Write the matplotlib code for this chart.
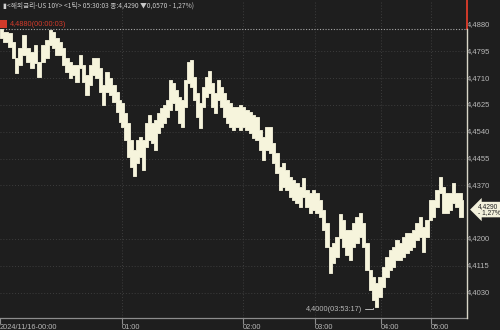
import matplotlib
matplotlib.use("Agg")
import matplotlib.pyplot as plt
import matplotlib.transforms as mtransforms
from matplotlib.patches import Rectangle

# ---------------- data ----------------
tick_idx = [0,5,10,13,16,20,24,28,32,35,39,43,47,50,53,57,60,63,67,70,73,77,80,83,87,90,93,97,100,103,
            107,110,114,117,120,122,125,128,131,134,137,140,143,146,149,152,155,158,161,164,167,170,173,176,179,182,185,188,191,194,
            197,200,203,206,209,212,215,218,221,224,227,230,233,237,240,243,247,250,253,257,260,263,267,270,273,277,280,283,287,290,
            293,297,300,303,307,310,313,317,320,323,327,330,333,337,340,343,347,350,353,357,360,363,367,370,373,376,380,383,387,390,
            393,397,400,403,407,410,413,417,420,423,427,430,433,437,440,443,447,450,453,457,460,463]

high = [4.4880,4.4870,4.4867,4.4839,4.4788,4.4820,4.4861,4.4820,4.4807,4.4829,4.4775,4.4829,4.4845,4.4877,4.4870,4.4851,4.4839,4.4820,4.4788,4.4775,
        4.4766,4.4766,4.4798,4.4766,4.4734,4.4766,4.4788,4.4788,4.4756,4.4702,4.4744,4.4725,4.4702,4.4680,4.4655,4.4645,4.4614,4.4582,4.4528,4.4496,
        4.4528,4.4538,4.4528,4.4582,4.4607,4.4582,4.4592,4.4614,4.4630,4.4639,4.4655,4.4718,4.4709,4.4687,4.4664,4.4655,4.4718,4.4775,4.4782,4.4728,
        4.4677,4.4645,4.4696,4.4728,4.4747,4.4709,4.4677,4.4718,4.4696,4.4677,4.4655,4.4645,4.4633,4.4633,4.4639,4.4633,4.4623,4.4617,4.4607,4.4601,
        4.4560,4.4538,4.4569,4.4569,4.4519,4.4487,4.4443,4.4455,4.4433,4.4411,4.4401,4.4392,4.4379,4.4408,4.4370,4.4360,4.4370,4.4360,4.4338,4.4306,
        4.4265,4.4189,4.4202,4.4221,4.4294,4.4275,4.4243,4.4243,4.4265,4.4284,4.4297,4.4265,4.4202,4.4116,4.4094,4.4075,4.4094,4.4125,4.4157,4.4179,
        4.4189,4.4211,4.4202,4.4221,4.4233,4.4233,4.4243,4.4265,4.4284,4.4252,4.4275,4.4338,4.4338,4.4370,4.4411,4.4379,4.4360,4.4360,4.4392,4.4360,
        4.4360,4.4338]

low = [4.4851,4.4839,4.4823,4.4788,4.4741,4.4766,4.4798,4.4775,4.4756,4.4772,4.4728,4.4775,4.4788,4.4829,4.4820,4.4798,4.4798,4.4766,4.4744,4.4725,
       4.4734,4.4712,4.4756,4.4712,4.4671,4.4702,4.4734,4.4725,4.4680,4.4639,4.4680,4.4671,4.4649,4.4617,4.4585,4.4569,4.4528,4.4474,4.4443,4.4414,
       4.4455,4.4474,4.4433,4.4506,4.4528,4.4519,4.4496,4.4550,4.4569,4.4582,4.4601,4.4623,4.4645,4.4623,4.4582,4.4569,4.4633,4.4709,4.4696,4.4655,
       4.4601,4.4566,4.4633,4.4664,4.4677,4.4633,4.4614,4.4655,4.4633,4.4601,4.4582,4.4569,4.4560,4.4569,4.4560,4.4569,4.4560,4.4550,4.4534,4.4528,
       4.4496,4.4465,4.4496,4.4487,4.4455,4.4424,4.4370,4.4379,4.4370,4.4347,4.4338,4.4328,4.4316,4.4347,4.4316,4.4297,4.4306,4.4297,4.4284,4.4243,
       4.4189,4.4107,4.4138,4.4157,4.4217,4.4189,4.4164,4.4148,4.4189,4.4202,4.4221,4.4189,4.4116,4.4053,4.4021,4.4000,4.4030,4.4062,4.4094,4.4116,
       4.4125,4.4148,4.4148,4.4157,4.4170,4.4179,4.4189,4.4211,4.4221,4.4173,4.4221,4.4275,4.4284,4.4316,4.4360,4.4297,4.4297,4.4306,4.4328,4.4316,
       4.4284,4.4284]

y_ticks = [4.4030, 4.4115, 4.4200, 4.4370, 4.4455, 4.4540, 4.4625, 4.4710, 4.4795, 4.4880]
x_tick_idx = [0, 122, 243, 315, 381, 431]
x_tick_labels = ["2024/11/16-00:00", "01:00", "02:00", "03:00", "04:00", "05:00"]

open_val = 4.4880
open_label = "4,4880(00:00:03)"
min_val = 4.4000
min_idx = 376
min_label = "4,4000(03:53:17)"
last_val = 4.4290
last_label = "4,4290\n- 1,27%"
title = "<해외금리-US 10Y> <1틱> 05:30:03 종:4,4290 ▼0,0570 - 1,27%)"

assert len(tick_idx) == len(high) == len(low)

# ---------------- style ----------------
BG = "#1e1e1e"
FG = "#f6f4dc"
TXT = "#b8b8b8"
GRID = "#3d3d3d"
RED = "#d23a2a"
num_font = ["Liberation Sans", "DejaVu Sans"]
kr_font = ["Noto Sans CJK KR", "DejaVu Sans"]

W, H = 500, 330
fig = plt.figure(figsize=(5, 3.3), dpi=100, facecolor=BG)
ax = fig.add_axes([0, (H - 318) / H, 467 / W, (318 - 14) / H], facecolor=BG)

ax.fill_between(tick_idx, low, high, step="mid", color=FG, lw=0.6, edgecolor=FG, zorder=3)

ax.set_xlim(0, 467)
ax.set_ylim(4.39639, 4.49276)

# offset transform for horizontal grid & labels
off = mtransforms.ScaledTranslation(0, 4.5 / 100, fig.dpi_scale_trans)
ytr = ax.get_yaxis_transform() + off
for v in y_ticks[:-1]:
    ax.plot([0, 1], [v, v], transform=ytr, color=GRID, lw=0.7, ls=(0, (1, 2)), zorder=0)
for v in y_ticks:
    ax.text(1.0, v, f"{v:.4f}".replace(".", ","), transform=ytr, ha="left", va="center",
            fontsize=5.5, color=TXT, family=num_font, clip_on=False)

# vertical grid
for xi in x_tick_idx[1:]:
    ax.axvline(xi, ymin=0, ymax=1.04, color=GRID, lw=0.7, ls=(0, (1, 2)), zorder=0, clip_on=False)

# open price dotted line
ax.axhline(open_val, color="#a8a8a8", lw=0.8, ls=(0, (1, 1.5)), zorder=1)

# spines
for s in ["top", "left", "right"]:
    ax.spines[s].set_visible(False)
ax.spines["bottom"].set_color("#8c8c8c")
ax.spines["bottom"].set_linewidth(0.9)
ax.set_yticks([])
ax.set_xticks(x_tick_idx)
ax.set_xticklabels(x_tick_labels, fontsize=5.3, color=TXT, family=num_font)
for lab in ax.get_xticklabels():
    lab.set_horizontalalignment("left")
ax.tick_params(axis="x", length=4, width=0.8, color="#8c8c8c", pad=0.2, direction="out")

# right vertical marker line: red above the open price, light below
xtr = ax.get_xaxis_transform()
yo = ax.transAxes.inverted().transform(ax.transData.transform((0, open_val)))[1]
ax.plot([467, 467], [yo, 1.05], transform=xtr, color=RED, lw=1.4, clip_on=False, zorder=5)
ax.plot([467, 467], [0, yo], transform=xtr, color="#d8d6c8", lw=1.0, clip_on=False, zorder=5)

# min annotation
ax.annotate(min_label, xy=(min_idx - 3, min_val), xytext=(-8, -2), textcoords="offset points",
            ha="right", va="center", fontsize=5.3, color=TXT, family=num_font,
            arrowprops=dict(arrowstyle="-", color=TXT, lw=0.7,
                            connectionstyle="angle,angleA=0,angleB=90,rad=0",
                            shrinkA=0, shrinkB=1))

# open label top-left
fig.patches.append(Rectangle((0, 1 - 28 / H), 7 / W, 8 / H, transform=fig.transFigure,
                             facecolor=RED, edgecolor="none"))
ax.annotate(open_label, xy=(0, open_val), xytext=(7, 3.5), textcoords="offset points",
            ha="left", va="center", fontsize=5.3, color=RED, family=num_font)

# last price box
ax.annotate(last_label, xy=(1.0, last_val), xycoords=("axes fraction", "data"),
            xytext=(8, 4), textcoords="offset points", ha="left", va="center",
            fontsize=4.8, color="#202020", family=num_font, linespacing=0.9,
            bbox=dict(boxstyle="larrow,pad=0.15", facecolor="#f3f1dc", edgecolor="none"),
            annotation_clip=False)

# title
fig.text(2 / W, 1 - 6 / H, "▮", fontsize=5, color="#d0d0d0", family=kr_font, va="center")
fig.text(7 / W, 1 - 6 / H, title, fontsize=4.8, color="#c8c8c8", family=kr_font, va="center")

fig.savefig("out.png", dpi=100, facecolor=BG)
